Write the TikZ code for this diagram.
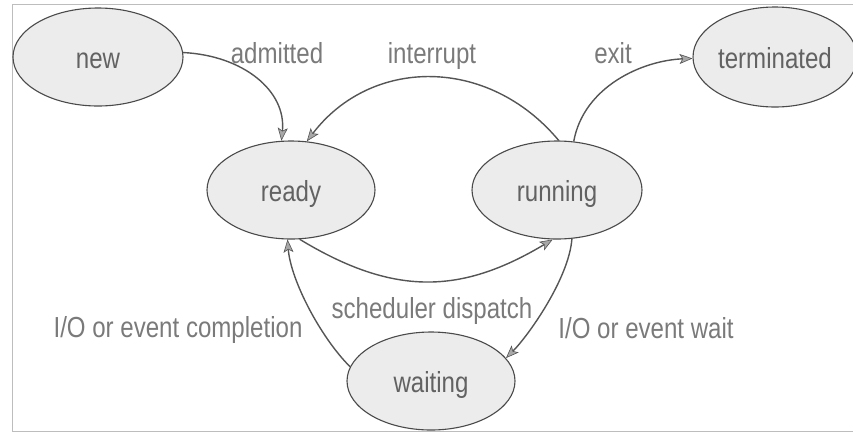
\documentclass[tikz,border=0pt]{standalone}
\usepackage{fontspec}
\setmainfont{Liberation Sans}[FakeStretch=0.83]
\usetikzlibrary{shapes.geometric,arrows.meta}
\definecolor{statefill}{HTML}{ECECEC}
\definecolor{stateline}{HTML}{4A4A4A}
\definecolor{edgeline}{HTML}{555555}
\definecolor{labelgray}{HTML}{7A7A7A}
\definecolor{framegray}{HTML}{BDBDBD}
\definecolor{tipfill}{HTML}{A8A8A8}
\begin{document}
\begin{tikzpicture}[x=1pt,y=-1pt,
  font=\fontsize{29}{34}\selectfont,
  state/.style={ellipse,draw=stateline,fill=statefill,line width=1.1pt,inner sep=0pt,
    text=labelgray!80!black,text height=22pt,text depth=0pt},
  lbl/.style={anchor=base,text=labelgray,inner sep=0pt},
  trans/.style={draw=edgeline,line width=1.4pt,
    -{Stealth[length=13pt,width=10pt,inset=3pt,color=edgeline,fill=tipfill,line width=0.6pt]}}]
\useasboundingbox (0,0) rectangle (853,432);
% frame
\draw[framegray,line width=1pt] (853,4) -- (12,4) -- (12,431) -- (853,431);
% states
\node[state,minimum width=170pt,minimum height=98pt] (new) at (98,57) {new};
\node[state,minimum width=164pt,minimum height=100pt] (term) at (775,57) {terminated};
\node[state,minimum width=168pt,minimum height=98pt] (ready) at (291,190) {ready};
\node[state,minimum width=170pt,minimum height=98pt] (run) at (557,190) {running};
\node[state,minimum width=168pt,minimum height=98pt] (wait) at (431,381) {waiting};
% labels
\node[lbl] (ladm) at (277,63) {admitted};
\node[lbl] (lint) at (432,63) {interrupt};
\node[lbl] (lexit) at (613,63) {exit};
\node[lbl] (lsch) at (432,318) {scheduler dispatch};
\node[lbl] (lcomp) at (178,337) {I/O or event completion};
\node[lbl] (lwait) at (646,338) {I/O or event wait};
% transitions
\draw[trans] (new.3) .. controls +(60,3) and +(5,-50) .. (ready.101);
\draw[trans] (run.88) .. controls +(-71,-85) and +(64,-84) .. (ready.72);
\draw[trans] (run.71) .. controls +(10,-55) and +(-50,2) .. (term.181);
\draw[trans] (ready.280) .. controls +(94,57) and +(-92,55) .. (run.265);
\draw[trans] (run.287) .. controls +(-3,40) and +(22,-22) .. (wait.17);
\draw[trans] (wait.170) .. controls +(-30,-30) and +(3,40) .. (ready.266);
\end{tikzpicture}
\end{document}
